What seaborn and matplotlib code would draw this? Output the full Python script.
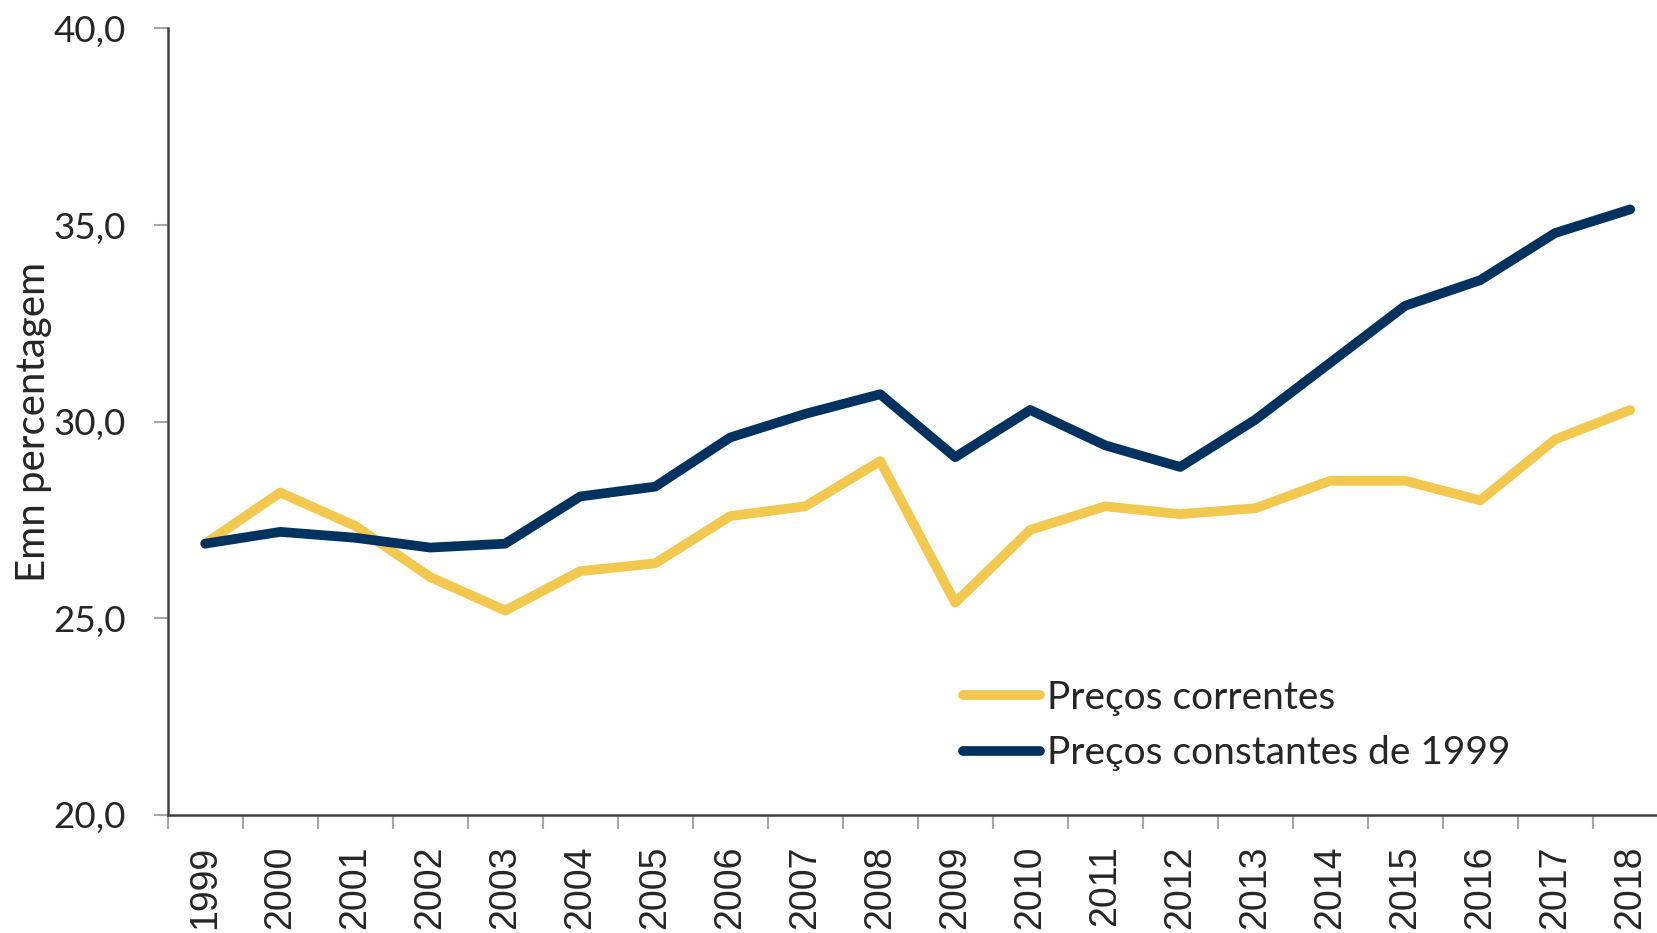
import matplotlib
matplotlib.use("Agg")
import matplotlib.pyplot as plt
from matplotlib.ticker import FuncFormatter, FixedLocator
import numpy as np
import pandas as pd
import seaborn as sns

sns.set_style("white")
plt.rcParams['font.family'] = ['Lato', 'DejaVu Sans']

years = list(range(1999, 2019))
correntes = [26.9, 28.2, 27.35, 26.05, 25.2, 26.2, 26.4, 27.6, 27.85, 29.0,
             25.4, 27.25, 27.85, 27.65, 27.8, 28.5, 28.5, 28.0, 29.55, 30.3]
constantes = [26.9, 27.2, 27.05, 26.8, 26.9, 28.1, 28.35, 29.6, 30.2, 30.7,
              29.1, 30.3, 29.4, 28.85, 30.05, 31.5, 32.95, 33.6, 34.8, 35.4]
series_names = ["Preços correntes", "Preços constantes de 1999"]
colors = ["#F2C84F", "#00325F"]
y_ticks = [20, 25, 30, 35, 40]

df = pd.DataFrame({
    "ano": years * 2,
    "valor": correntes + constantes,
    "serie": [series_names[0]] * len(years) + [series_names[1]] * len(years),
})

fig = plt.figure(figsize=(16.58, 9.33), dpi=100)
ax = fig.add_axes([167.7 / 1658, 1 - 815 / 933, 1500 / 1658, (815 - 28.5) / 933])

sns.lineplot(data=df, x="ano", y="valor", hue="serie", palette=colors,
             hue_order=series_names, linewidth=7, ax=ax, legend=True,
             solid_capstyle="round")

ax.set_xlim(years[0] - 0.5, years[-1] + 0.5)
ax.set_ylim(20, 40)

# category labels in the middle, tick marks on the borders
ax.set_xticks(years)
ax.set_xticklabels([str(y) for y in years], rotation=90,
                   fontfamily="Liberation Sans", fontsize=27)
ax.xaxis.set_minor_locator(FixedLocator(np.arange(years[0] - 0.5, years[-1] + 1.0, 1.0)))
ax.tick_params(axis="x", which="major", length=0, pad=22)
ax.tick_params(axis="x", which="minor", length=10, width=1.5, color="#a6a6a6", bottom=True)

ax.set_yticks(y_ticks)
ax.yaxis.set_major_formatter(FuncFormatter(lambda v, p: f"{v:.1f}".replace(".", ",")))
ax.tick_params(axis="y", length=10, width=1.5, color="#a6a6a6", pad=20, labelsize=26.5, left=True)

for side in ["top", "right"]:
    ax.spines[side].set_visible(False)
for side in ["left", "bottom"]:
    ax.spines[side].set_color("#404040")
    ax.spines[side].set_linewidth(1.8)

ax.set_xlabel("")
ax.set_ylabel("Emn percentagem", fontsize=29)
ax.yaxis.set_label_coords((52 - 167.7) / 1500, 0.5)

handles, labels = ax.get_legend_handles_labels()
leg = ax.legend(handles, labels, loc="center left",
                bbox_to_anchor=((963 - 167.7) / 1500, (815 - 725.5) / 786.5),
                frameon=False, fontsize=28, handlelength=1.98, handletextpad=0.18,
                labelspacing=0.5, borderpad=0, borderaxespad=0)
for line in leg.get_lines():
    line.set_linewidth(7)
    line.set_solid_capstyle("round")

fig.savefig("out.png", dpi=100)
